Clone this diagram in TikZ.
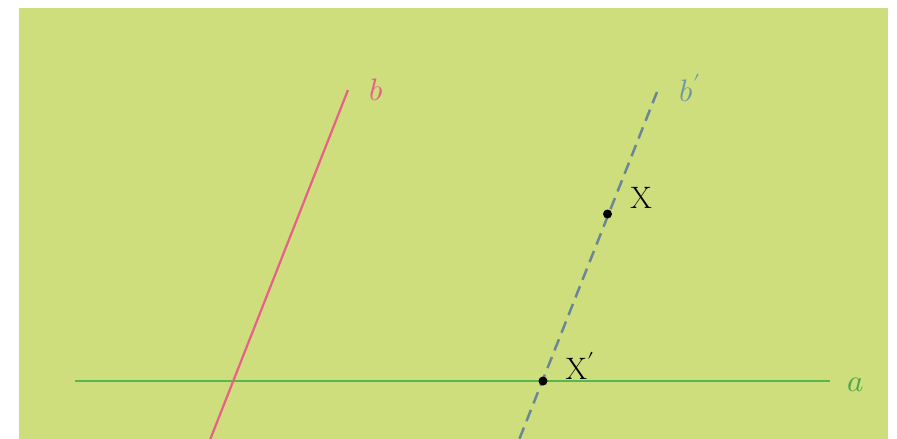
\documentclass[tikz,border=0pt]{standalone}
\usepackage{fontspec}
\usepackage{unicode-math}
\usepackage{xcolor}
\definecolor{bg}{RGB}{206,222,124}
\definecolor{lineA}{RGB}{88,182,80}
\definecolor{labA}{RGB}{78,165,75}
\definecolor{lineB}{RGB}{232,96,136}
\definecolor{lineBp}{RGB}{105,135,150}
\definecolor{labBp}{RGB}{110,150,170}
\begin{document}
\begin{tikzpicture}[x=1pt,y=-1pt,
  lab/.style={font=\fontsize{31}{35}\selectfont, inner sep=0pt},
  ptdot/.style={circle, fill=black, inner sep=0pt, minimum size=9pt}]
\useasboundingbox (0,0) rectangle (897,439);
\fill[white] (0,0) rectangle (897,439);
\fill[bg] (19,8) rectangle (888,439);
\begin{scope}
\clip (19,8) rectangle (888,439);
% line a
\coordinate (a1) at (75,381);
\coordinate (a2) at (830,381);
\draw[lineA, line width=2.2pt] (a1) -- (a2);
% line b
\coordinate (b1) at (348,90);
\coordinate (b2) at (208,445);
\draw[lineB, line width=2.2pt] (b1) -- (b2);
% line b'
\coordinate (c1) at (657,92);
\coordinate (c2) at (517,445);
\draw[lineBp, line width=2.5pt, dash pattern=on 12pt off 7pt] (c1) -- (c2);
\end{scope}
\node[ptdot] (X) at (607.5,214) {};
\node[ptdot] (Xp) at (543,381) {};
\node[lab, text=labA] (la) at (856,385) {$a$};
\node[lab, text=lineB] (lb) at (376,90) {$b$};
\node[lab, text=labBp] (lbp) at (690,88) {$b'$};
\node[lab] (lX) at (641,198) {X};
\node[lab] (lXp) at (580,366) {X$'$};
\end{tikzpicture}
\end{document}
